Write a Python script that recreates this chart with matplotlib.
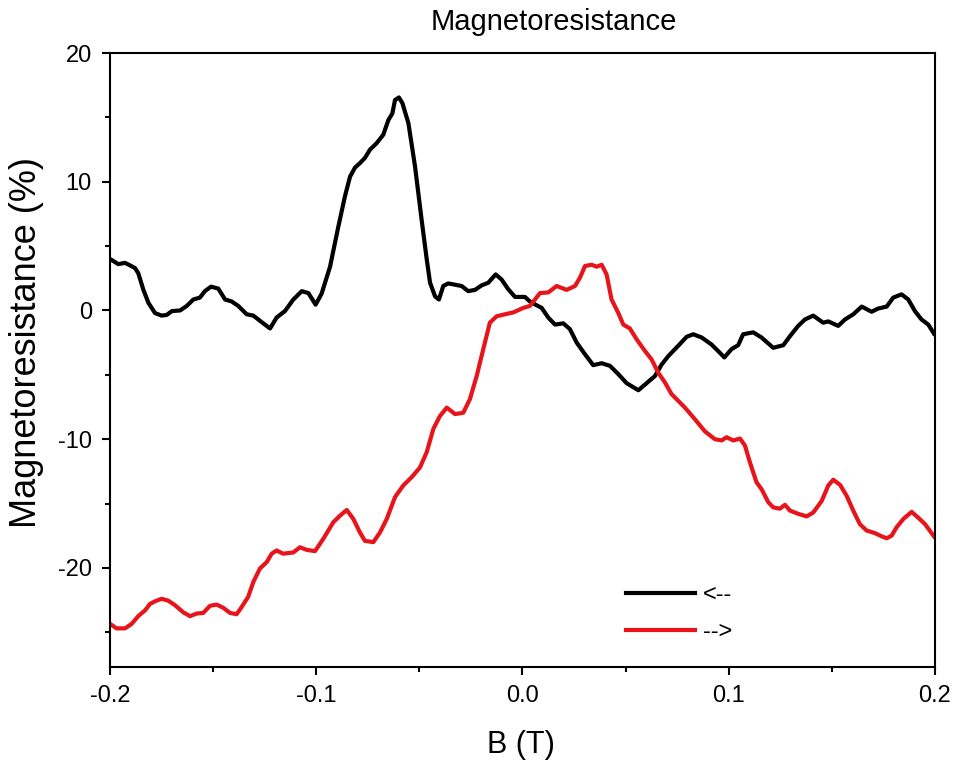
import matplotlib.pyplot as plt
from matplotlib.ticker import MultipleLocator

plt.rcParams['font.family'] = ['Liberation Sans', 'DejaVu Sans']

# sweep from +B to -B (black, "<--")
b_down = [-0.1995, -0.196, -0.1927, -0.1879, -0.1863, -0.1838, -0.1814, -0.1782, -0.175, -0.1725,
          -0.170, -0.166, -0.1628, -0.1596, -0.1564, -0.154, -0.151, -0.1475, -0.1442, -0.141,
          -0.1378, -0.1337, -0.1305, -0.1265, -0.1224, -0.1192, -0.1152, -0.1111, -0.107, -0.1038,
          -0.1003, -0.0974, -0.0933, -0.0893, -0.0861, -0.0836, -0.0812, -0.0788, -0.0764, -0.0739,
          -0.0707, -0.0675, -0.065, -0.0631, -0.0618, -0.0599, -0.0582, -0.0553, -0.0521, -0.0489,
          -0.0464, -0.0448, -0.0424, -0.0405, -0.0384, -0.036, -0.0327, -0.0295, -0.0263, -0.023,
          -0.0198, -0.0166, -0.013, -0.0101, -0.0069, -0.0036, 0.0012, 0.0036, 0.0069, 0.0093,
          0.0125, 0.0158, 0.0198, 0.023, 0.0263, 0.0303, 0.0343, 0.0384, 0.0424, 0.0465,
          0.0505, 0.0562, 0.0602, 0.0642, 0.0675, 0.0707, 0.0755, 0.0796, 0.0828, 0.0869,
          0.0917, 0.0958, 0.0979, 0.1014, 0.1046, 0.107, 0.1119, 0.1159, 0.1216, 0.1265,
          0.1297, 0.1337, 0.137, 0.141, 0.1458, 0.1483, 0.1531, 0.1564, 0.1604, 0.1645,
          0.1693, 0.1725, 0.1766, 0.1798, 0.1838, 0.1871, 0.1903, 0.1935, 0.1968, 0.1995]
mr_down = [3.95, 3.6, 3.7, 3.3, 2.9, 1.6, 0.6, -0.2, -0.4, -0.35,
           -0.05, 0.0, 0.35, 0.85, 1.0, 1.5, 1.85, 1.7, 0.85, 0.7,
           0.35, -0.3, -0.4, -0.9, -1.4, -0.55, -0.05, 0.85, 1.5, 1.35,
           0.45, 1.3, 3.4, 6.5, 8.85, 10.4, 11.1, 11.45, 11.85, 12.5,
           13.0, 13.65, 14.8, 15.3, 16.35, 16.55, 16.1, 14.55, 11.2, 7.05,
           3.95, 2.15, 1.1, 0.85, 1.9, 2.1, 2.0, 1.9, 1.5, 1.6,
           1.95, 2.15, 2.8, 2.4, 1.65, 1.05, 1.05, 0.7, 0.4, 0.2,
           -0.55, -1.1, -1.0, -1.45, -2.5, -3.4, -4.25, -4.1, -4.3, -4.95,
           -5.65, -6.2, -5.65, -5.1, -4.2, -3.55, -2.75, -2.05, -1.85, -2.1,
           -2.65, -3.3, -3.65, -3.0, -2.7, -1.85, -1.7, -2.1, -2.9, -2.7,
           -2.0, -1.2, -0.7, -0.4, -0.95, -0.85, -1.2, -0.7, -0.3, 0.3,
           -0.1, 0.15, 0.3, 1.0, 1.25, 0.85, -0.05, -0.7, -1.1, -1.8]

# sweep from -B to +B (red, "-->")
b_up = [-0.2, -0.1968, -0.1927, -0.1895, -0.1863, -0.183, -0.1806, -0.1782, -0.175, -0.1717,
        -0.1685, -0.1645, -0.1612, -0.158, -0.1548, -0.1515, -0.1483, -0.1451, -0.1418, -0.1386,
        -0.1362, -0.133, -0.1305, -0.1273, -0.124, -0.1216, -0.1192, -0.116, -0.1111, -0.1079,
        -0.1046, -0.1006, -0.0966, -0.0917, -0.0885, -0.0852, -0.082, -0.0788, -0.0764, -0.0723,
        -0.0691, -0.0658, -0.0618, -0.0578, -0.0537, -0.0497, -0.0464, -0.0432, -0.04, -0.0367,
        -0.0327, -0.0287, -0.0255, -0.0222, -0.019, -0.0158, -0.0125, -0.0085, -0.0044, 0.0004,
        0.0036, 0.0085, 0.0125, 0.0166, 0.0214, 0.0255, 0.0279, 0.0303, 0.0335, 0.036,
        0.0384, 0.0408, 0.0432, 0.0465, 0.0489, 0.0521, 0.0554, 0.0594, 0.0626, 0.0659,
        0.0691, 0.0723, 0.0788, 0.0836, 0.0885, 0.0933, 0.0966, 0.099, 0.1022, 0.1055,
        0.1079, 0.1103, 0.1135, 0.116, 0.1192, 0.1216, 0.1248, 0.1273, 0.1297, 0.1337,
        0.1378, 0.141, 0.1451, 0.1483, 0.1507, 0.154, 0.1572, 0.1604, 0.1636, 0.1669,
        0.1709, 0.1742, 0.1766, 0.179, 0.1814, 0.1847, 0.1887, 0.1919, 0.1952, 0.1995]
mr_up = [-24.35, -24.7, -24.7, -24.35, -23.75, -23.3, -22.8, -22.6, -22.4, -22.55,
         -22.9, -23.45, -23.75, -23.55, -23.5, -22.95, -22.85, -23.1, -23.5, -23.6,
         -23.05, -22.25, -21.1, -20.05, -19.55, -18.9, -18.65, -18.9, -18.8, -18.4,
         -18.6, -18.7, -17.75, -16.45, -15.95, -15.5, -16.2, -17.25, -17.9, -18.0,
         -17.25, -16.2, -14.5, -13.6, -12.95, -12.2, -11.0, -9.2, -8.2, -7.55,
         -8.05, -7.95, -6.9, -5.1, -3.0, -0.95, -0.45, -0.3, -0.15, 0.2,
         0.35, 1.35, 1.4, 1.9, 1.6, 1.9, 2.55, 3.45, 3.55, 3.4,
         3.55, 2.8, 0.85, -0.2, -1.1, -1.4, -2.25, -3.15, -3.8, -4.85,
         -5.6, -6.5, -7.55, -8.45, -9.4, -10.0, -10.1, -9.85, -10.1, -9.95,
         -10.5, -11.8, -13.35, -13.9, -14.9, -15.3, -15.4, -15.1, -15.55, -15.8,
         -16.0, -15.7, -14.8, -13.6, -13.15, -13.55, -14.4, -15.55, -16.6, -17.1,
         -17.3, -17.55, -17.7, -17.5, -16.85, -16.2, -15.65, -16.1, -16.6, -17.55]

fig = plt.figure(figsize=(9.54, 7.62), dpi=100)
ax = fig.add_axes([0.1153, 0.1247, 0.8647, 0.8057])

ax.plot(b_down, mr_down, color='black', lw=3, label='<--', solid_joinstyle='round')
ax.plot(b_up, mr_up, color='#e8141b', lw=3, label='-->', solid_joinstyle='round')

ax.set_xlim(-0.2, 0.2)
ax.set_ylim(-27.7, 20)
ax.set_xticks([-0.2, -0.1, 0.0, 0.1, 0.2])
ax.set_xticklabels(['-0.2', '-0.1', '0.0', '0.1', '0.2'])
ax.set_yticks([-20, -10, 0, 10, 20])
ax.set_yticklabels(['-20', '-10', '0', '10', '20'])
ax.xaxis.set_minor_locator(MultipleLocator(0.05))
ax.yaxis.set_minor_locator(MultipleLocator(5))
ax.tick_params(which='both', direction='out', width=1.5, top=False, right=False)
ax.tick_params(which='major', length=6, labelsize=17, pad=7)
ax.tick_params(which='minor', length=3.5)
for s in ax.spines.values():
    s.set_linewidth(1.5)

fig.text(0.58, 0.971, 'Magnetoresistance', ha='center', va='center', fontsize=21)
fig.text(0.546, 0.022, 'B (T)', ha='center', va='center', fontsize=22)
fig.text(0.028, 0.55, 'Magnetoresistance (%)', ha='center', va='center', rotation=90, fontsize=26)

ax.legend(loc='center left', bbox_to_anchor=(0.626, 0.087), frameon=False, fontsize=17,
          handlelength=2.9, handletextpad=0.35, labelspacing=0.65, borderpad=0,
          borderaxespad=0)

fig.savefig('out.png', dpi=100)
